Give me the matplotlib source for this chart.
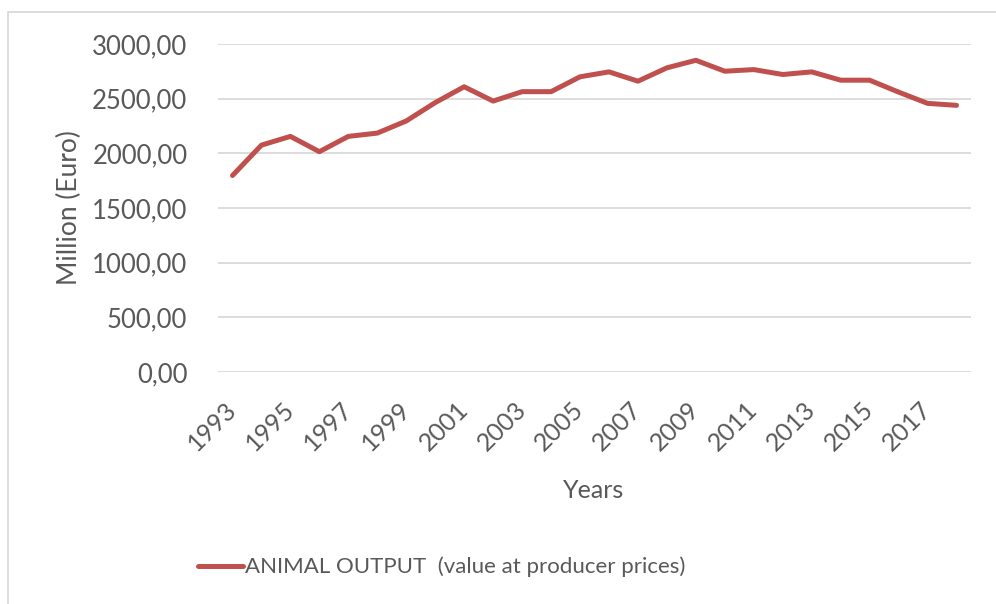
import matplotlib
matplotlib.use("Agg")
import matplotlib.pyplot as plt
from matplotlib.patches import Rectangle

plt.rcParams['font.family'] = ['Lato', 'DejaVu Sans']

# Animal output at producer prices, million euro
years = list(range(1993, 2019))
animal_output = [1797, 2075, 2155, 2015, 2155, 2185, 2296, 2464, 2609, 2478,
                 2564, 2564, 2700, 2745, 2660, 2782, 2851, 2751, 2766, 2721,
                 2745, 2669, 2669, 2560, 2457, 2439]
yticks = [0, 500, 1000, 1500, 2000, 2500, 3000]

text_color = '#595959'
grid_color = '#D9D9D9'
line_color = '#C0504D'

fig = plt.figure(figsize=(9.96, 6.04), dpi=100)
ax = fig.add_axes([218 / 996, 1 - 372 / 604, 753 / 996, 328 / 604])

x = list(range(len(years)))
ax.plot(x, animal_output, color=line_color, lw=3.6, solid_capstyle='round',
        solid_joinstyle='round', label='ANIMAL OUTPUT  (value at producer prices)',
        zorder=3)

ax.set_xlim(-0.5, len(years) - 0.5)
ax.set_ylim(0, 3000)
ax.set_yticks(yticks)
ax.set_yticklabels([f"{v},00" for v in yticks], fontsize=18.5)
ax.set_xticks(x[::2])
ax.set_xticklabels([str(y) for y in years[::2]], rotation=45, ha='right',
                   va='center', rotation_mode='anchor', fontsize=18)

ax.tick_params(axis='both', length=0, colors=text_color)
ax.tick_params(axis='y', pad=22)
ax.tick_params(axis='x', pad=24)
ax.grid(axis='y', color=grid_color, lw=1.3)
ax.set_axisbelow(True)
for s in ax.spines.values():
    s.set_visible(False)

ax.set_ylabel('Million (Euro)', color=text_color, fontsize=19, labelpad=7)
fig.text(594 / 996, 1 - 490 / 604, 'Years', color=text_color, fontsize=18,
         ha='center', va='center')

leg = fig.legend(loc='center', bbox_to_anchor=(442 / 996, 1 - 567 / 604),
                 frameon=False, fontsize=16, handlelength=2.0, handletextpad=0.1)
for t in leg.get_texts():
    t.set_color(text_color)

# light frame around the chart area
fig.patches.append(Rectangle((8 / 996, -0.1), 1.2, 1 - 12 / 604 + 0.1,
                             transform=fig.transFigure, fill=False,
                             edgecolor=grid_color, lw=1.3))

fig.savefig('out.png', dpi=100)
